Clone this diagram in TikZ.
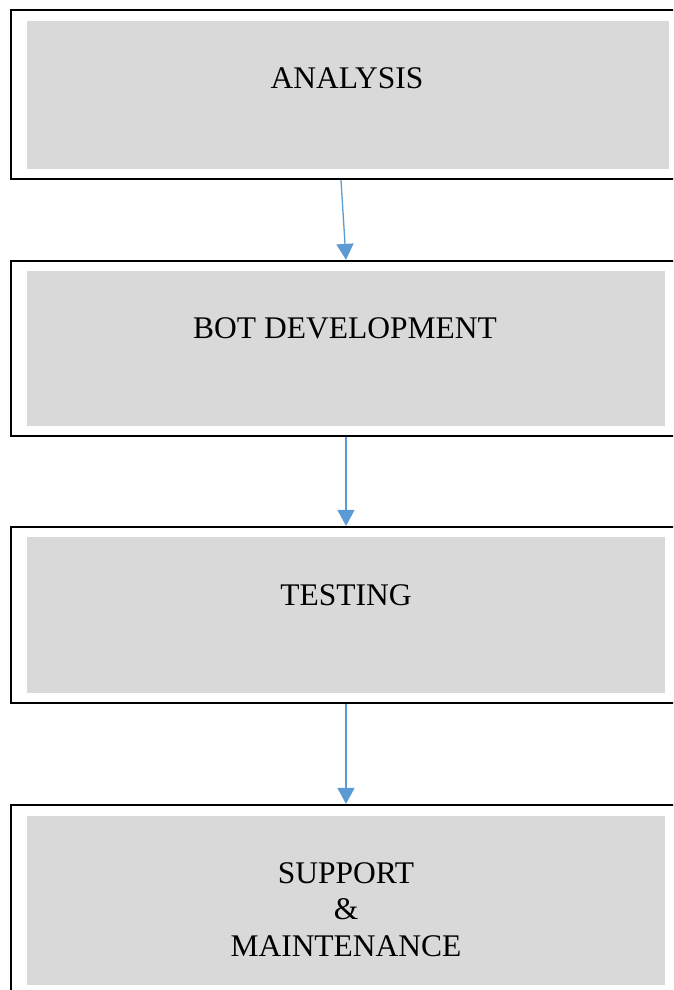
\documentclass[tikz,border=0pt]{standalone}
\usepackage{fontspec}
\setmainfont{Liberation Serif}
\usetikzlibrary{arrows.meta}
\begin{document}
\begin{tikzpicture}[x=1pt,y=-1pt,
  outerbox/.style={draw=black, line width=2.2pt, fill=white, inner sep=0pt, rectangle},
  graybox/.style={fill=graybg, draw=none, inner sep=0pt, rectangle},
  lbl/.style={anchor=base, inner sep=0pt, align=center, font=\fontsize{31.5}{36.5}\selectfont},
  conn/.style={draw=arrowblue, line width=1.3pt, -{Triangle[width=17pt,length=16pt]}}
]
\definecolor{graybg}{RGB}{217,217,217}
\definecolor{arrowblue}{RGB}{91,155,213}
\useasboundingbox (0,0) rectangle (673,990);
\clip (0,0) rectangle (673,990);
% outer frames
\node[outerbox, minimum width=670pt, minimum height=169pt] (o1) at (346,94.5) {};
\node[outerbox, minimum width=670pt, minimum height=175pt] (o2) at (346,348.5) {};
\node[outerbox, minimum width=670pt, minimum height=176pt] (o3) at (346,615) {};
\node[outerbox, minimum width=670pt, minimum height=195pt] (o4) at (346,902.5) {};
% gray panels
\node[graybox, minimum width=642pt, minimum height=148pt] (g1) at (348,95) {};
\node[graybox, minimum width=638pt, minimum height=155pt] (g2) at (346,348.5) {};
\node[graybox, minimum width=638pt, minimum height=156pt] (g3) at (346,615) {};
\node[graybox, minimum width=638pt, minimum height=169pt] (g4) at (346,900.5) {};
% labels
\node[lbl] (t1) at (347,88.4) {ANALYSIS};
\node[lbl] (t2) at (345,338.4) {BOT DEVELOPMENT};
\node[lbl] (t3) at (346,605.4) {TESTING};
\node[lbl] (t4) at (346,956.4) {SUPPORT\\\&\\MAINTENANCE};
% connectors
\coordinate (s1) at ([xshift=-5pt]o1.south);
\draw[conn] (s1) -- (o2.north);
\draw[conn] (o2.south) -- (o3.north);
\draw[conn] (o3.south) -- (o4.north);
\end{tikzpicture}
\end{document}
